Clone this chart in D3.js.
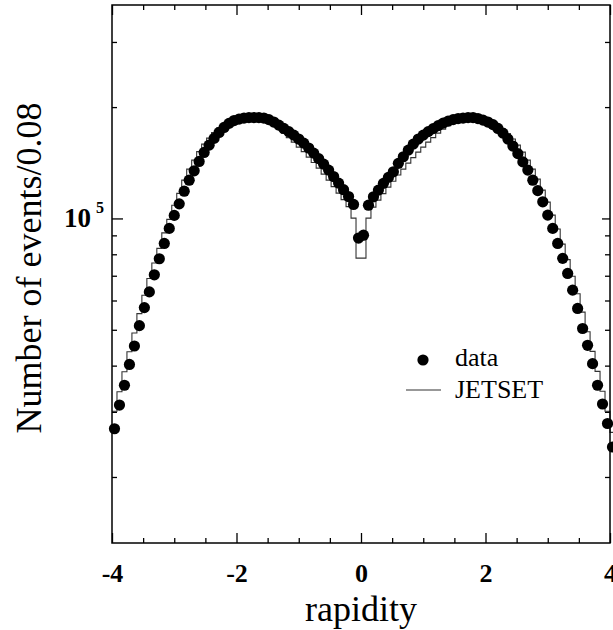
<!DOCTYPE html>
<html>
<head>
<meta charset="utf-8">
<script src="https://cdn.jsdelivr.net/npm/d3@7"></script>
<style>
  html, body { margin: 0; padding: 0; background: #fff; }
  svg { display: block; }
</style>
</head>
<body>
<svg id="chart" width="613" height="630"></svg>
<script>
// Rapidity bin centres (bin width 0.08)
const rapidity = [
  -3.96, -3.88, -3.80, -3.72, -3.64, -3.56, -3.48, -3.40, -3.32, -3.24,
  -3.16, -3.08, -3.00, -2.92, -2.84, -2.76, -2.68, -2.60, -2.52, -2.44,
  -2.36, -2.28, -2.20, -2.12, -2.04, -1.96, -1.88, -1.80, -1.72, -1.64,
  -1.56, -1.48, -1.40, -1.32, -1.24, -1.16, -1.08, -1.00, -0.92, -0.84,
  -0.76, -0.68, -0.60, -0.52, -0.44, -0.36, -0.28, -0.20, -0.12, -0.04,
   0.04,  0.12,  0.20,  0.28,  0.36,  0.44,  0.52,  0.60,  0.68,  0.76,
   0.84,  0.92,  1.00,  1.08,  1.16,  1.24,  1.32,  1.40,  1.48,  1.56,
   1.64,  1.72,  1.80,  1.88,  1.96,  2.04,  2.12,  2.20,  2.28,  2.36,
   2.44,  2.52,  2.60,  2.68,  2.76,  2.84,  2.92,  3.00,  3.08,  3.16,
   3.24,  3.32,  3.40,  3.48,  3.56,  3.64,  3.72,  3.80,  3.88,  3.96,
   4.04
];
const binWidth = 0.08;

// Measured number of events per bin
const dataCounts = [
   27000,  31300,  35400,  40300,  45200,  51300,  57400,  63300,  70400,  77800,
   85600,  94000, 101900, 109500, 118500, 126900, 134500, 142600, 150800, 157800,
  164600, 170800, 176200, 180700, 183900, 185600, 186800, 187400, 187400, 187400,
  186800, 185000, 182200, 178800, 175100, 171700, 168000, 163900, 159800, 155000,
  150200, 145100, 140200, 135100, 129800, 124600, 119600, 114600, 109100,  88500,
   90100, 108600, 114400, 119300, 124400, 129100, 133700, 140900, 146800, 153000,
  158800, 163900, 168000, 171700, 174900, 178200, 181000, 183300, 185000, 186200,
  186800, 187400, 187400, 186200, 184400, 182200, 179300, 175100, 170100, 163900,
  156900, 149700, 142200, 135100, 126900, 118900, 110900, 102100,  94000,  85600,
   78000,  71000,  64000,  57100,  50400,  45400,  40500,  35400,  31500,  27900,
   24100
];

// JETSET Monte Carlo prediction per bin
const jetsetCounts = [
   30100,  34000,  38500,  43600,  49000,  55300,  62000,  68800,  75800,  83000,
   91400,  99400, 108600, 116900, 126900, 135900, 143800, 151600, 158800, 164900,
  170600, 175500, 179300, 182700, 185000, 186200, 186800, 186800, 186200, 185600,
  184400, 182200, 179300, 174400, 170100, 165400, 160800, 155900, 151600, 146500,
  141600, 136800, 131800, 126900, 121900, 117100, 112400, 107600, 100200,  78100,
   78100, 100200, 107300, 112100, 116700, 121500, 126100, 131000, 135900, 141100,
  146000, 151100, 155900, 160800, 165400, 170100, 174400, 178200, 181600, 183900,
  185600, 186800, 186800, 186200, 185000, 183300, 181000, 178200, 174400, 169600,
  163900, 157800, 151100, 143800, 135900, 127700, 119300, 110700, 102100,  93600,
   85200,  77400,  69800,  62600,  55800,  49400,  43700,  38600,  34100,  30100,
   26400
];

// Axis ticks
const xMajorTicks = [-4, -2, 0, 2, 4];
const xMinorTicks = [-3.5, -3, -2.5, -1.5, -1, -0.5, 0.5, 1, 1.5, 2.5, 3, 3.5];
const yMajorTicks = [1e5];
const yMinorTicks = [2e4, 3e4, 4e4, 5e4, 6e4, 7e4, 8e4, 9e4, 2e5, 3e5];

const legendItems = ["data", "JETSET"];

const svg = d3.select("#chart");
const plotLeft = 112, plotRight = 610, plotTop = 5, plotBottom = 543;

const x = d3.scaleLinear().domain([-4, 4]).range([plotLeft, plotRight]);
const y = d3.scaleLog().domain([13260, 377600]).range([plotBottom, plotTop]);

const serif = "'Liberation Serif', 'Times New Roman', Times, serif";

// JETSET histogram as a step line over bin edges
const edges = rapidity.map((c, i) => [c - binWidth / 2, jetsetCounts[i]]);
edges.push([rapidity[rapidity.length - 1] + binWidth / 2, jetsetCounts[jetsetCounts.length - 1]]);
const stepLine = d3.line()
  .x(d => x(d[0]))
  .y(d => y(d[1]))
  .curve(d3.curveStepAfter);

svg.append("path")
  .datum(edges)
  .attr("d", stepLine)
  .attr("fill", "none")
  .attr("stroke", "#333")
  .attr("stroke-width", 1.1);

// Data points
svg.append("g")
  .selectAll("circle")
  .data(rapidity)
  .join("circle")
  .attr("cx", d => x(d))
  .attr("cy", (d, i) => y(dataCounts[i]))
  .attr("r", 5.6)
  .attr("fill", "#000");

// Frame and ticks
function styleAxis(g) {
  g.select(".domain").remove();
  g.selectAll(".tick line").attr("stroke", "#000").attr("stroke-width", 1.3);
}

svg.append("g").attr("transform", `translate(0,${plotBottom})`)
  .call(d3.axisBottom(x).tickValues(xMinorTicks).tickSize(-5).tickFormat(""))
  .call(styleAxis);
svg.append("g").attr("transform", `translate(0,${plotBottom})`)
  .call(d3.axisBottom(x).tickValues(xMajorTicks).tickSize(-10).tickPadding(30)
    .tickFormat(d => String(d).replace("−", "-")))
  .call(styleAxis)
  .call(g => g.selectAll(".tick text")
    .attr("font-family", serif).attr("font-weight", "bold")
    .attr("font-size", 26).attr("fill", "#000").attr("dy", "0.35em"));

svg.append("g").attr("transform", `translate(0,${plotTop})`)
  .call(d3.axisTop(x).tickValues(xMinorTicks).tickSize(-5).tickFormat(""))
  .call(styleAxis);
svg.append("g").attr("transform", `translate(0,${plotTop})`)
  .call(d3.axisTop(x).tickValues(xMajorTicks).tickSize(-10).tickFormat(""))
  .call(styleAxis);

svg.append("g").attr("transform", `translate(${plotLeft},0)`)
  .call(d3.axisLeft(y).tickValues(yMinorTicks).tickSize(-5).tickFormat(""))
  .call(styleAxis);
svg.append("g").attr("transform", `translate(${plotLeft},0)`)
  .call(d3.axisLeft(y).tickValues(yMajorTicks).tickSize(-11).tickFormat(""))
  .call(styleAxis);

svg.append("g").attr("transform", `translate(${plotRight},0)`)
  .call(d3.axisRight(y).tickValues(yMinorTicks).tickSize(-5).tickFormat(""))
  .call(styleAxis);
svg.append("g").attr("transform", `translate(${plotRight},0)`)
  .call(d3.axisRight(y).tickValues(yMajorTicks).tickSize(-8).tickFormat(""))
  .call(styleAxis);

svg.append("rect")
  .attr("x", plotLeft).attr("y", plotTop)
  .attr("width", plotRight - plotLeft).attr("height", plotBottom - plotTop)
  .attr("fill", "none").attr("stroke", "#000").attr("stroke-width", 1.5);

// Power-of-ten label on the y axis
svg.append("text")
  .attr("x", 91).attr("y", y(1e5) + 9)
  .attr("text-anchor", "end")
  .attr("font-family", serif).attr("font-weight", "bold")
  .attr("font-size", 27).attr("fill", "#000")
  .text("10");
svg.append("text")
  .attr("x", 96).attr("y", y(1e5) - 5)
  .attr("font-family", serif).attr("font-weight", "bold")
  .attr("font-size", 16).attr("fill", "#000")
  .text("5");

// Axis titles
svg.append("text")
  .attr("x", x(0)).attr("y", 621)
  .attr("text-anchor", "middle")
  .attr("font-family", serif).attr("font-size", 36).attr("fill", "#000")
  .text("rapidity");

svg.append("text")
  .attr("transform", "translate(41,268) rotate(-90)")
  .attr("text-anchor", "middle")
  .attr("font-family", serif).attr("font-size", 36).attr("fill", "#000")
  .text("Number of events/0.08");

// Legend
const legend = svg.append("g");
legend.append("circle").attr("cx", 423).attr("cy", 360).attr("r", 5.6).attr("fill", "#000");
legend.append("line")
  .attr("x1", 406).attr("x2", 441).attr("y1", 390).attr("y2", 390)
  .attr("stroke", "#333").attr("stroke-width", 1.1);
legend.selectAll("text.item")
  .data(legendItems)
  .join("text")
  .attr("class", "item")
  .attr("x", 455)
  .attr("y", (d, i) => 366 + i * 32)
  .attr("font-family", serif).attr("font-size", 26).attr("fill", "#000")
  .text(d => d);
</script>
</body>
</html>
